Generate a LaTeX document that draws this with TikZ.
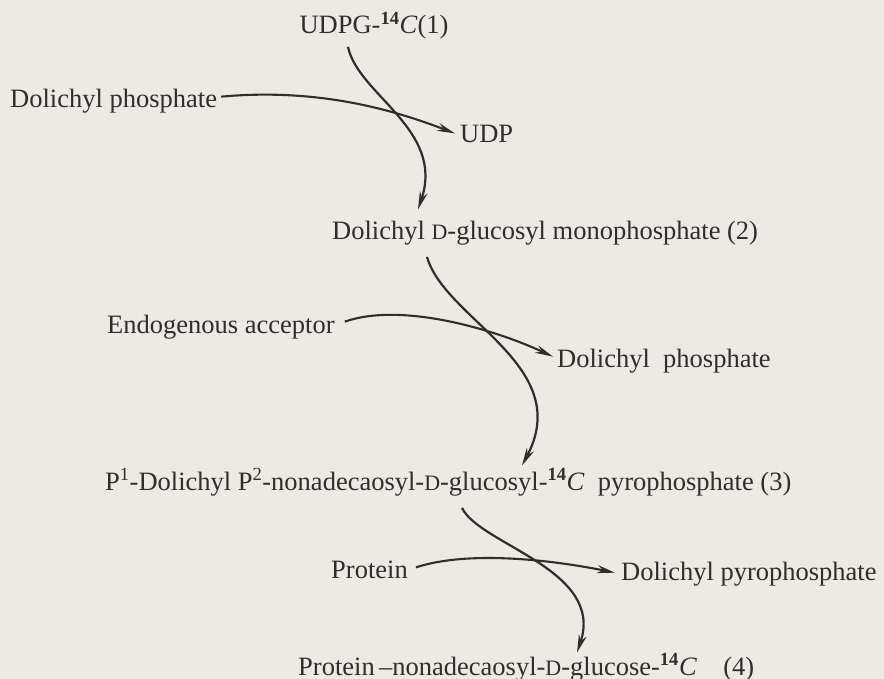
\documentclass[tikz,border=0pt]{standalone}
\usepackage{fontspec}
\setmainfont{Liberation Serif}
\usepackage{tikz}
\usetikzlibrary{arrows.meta}
\definecolor{paper}{HTML}{EDEAE1}
\definecolor{ink}{HTML}{2E2E2E}
\newcommand{\smallD}{{\fontsize{22}{22}\selectfont D}}
\newcommand{\labC}{\textsuperscript{\textbf{14}}\textit{C}}

\begin{document}
\begin{tikzpicture}[
  x=1pt, y=-1pt,
  >={Stealth[length=18pt,width=8pt]},
  font=\fontsize{26.5}{30}\selectfont,
  compound/.style={
    text=ink,
    inner sep=0pt,
    anchor=base west
  },
  mainarrow/.style={->, line width=2.2pt, draw=ink},
  sidearrow/.style={->, line width=2.1pt, draw=ink}
]

  \useasboundingbox (0,0) rectangle (884,679);
  \fill[paper] (0,0) rectangle (884,679);

  % --- STEP 1: UDPG + DOLICHYL PHOSPHATE ---
  \node[compound, anchor=base] (udpg) at (374,34) {UDPG-\labC(1)};
  \node[compound] (dolp) at (10,108) {Dolichyl phosphate};
  \node[compound] (udp) at (460,143) {UDP};
  \node[compound] (dglc) at (332,240) {Dolichyl \smallD-glucosyl monophosphate (2)};

  \draw[mainarrow] ([xshift=-26pt,yshift=-7pt]udpg.south)
    .. controls +(10,48) and +(27,-80) .. ([xshift=86pt,yshift=12pt]dglc.north west);
  \draw[sidearrow] ([xshift=4pt,yshift=5pt]dolp.east)
    .. controls +(98,-9) and +(-60,-23) .. ([xshift=-5pt,yshift=1pt]udp.west);

  % --- STEP 2: TRANSFER TO ENDOGENOUS ACCEPTOR ---
  \node[compound] (endo) at (107,333) {Endogenous acceptor};
  \node[compound] (dolp2) at (557,367) {Dolichyl\ \ phosphate};
  \node[compound] (pyro) at (105,490)
    {P\textsuperscript{1}-Dolichyl P\textsuperscript{2}-nonadecaosyl-\smallD-glucosyl-\labC\ \ pyrophosphate (3)};

  \draw[mainarrow] ([xshift=95pt,yshift=-11pt]dglc.south west)
    .. controls +(18,63) and +(53,-100) .. ([xshift=417pt,yshift=3pt]pyro.north west);
  \draw[sidearrow] ([xshift=10pt,yshift=5pt]endo.east)
    .. controls +(57,-20) and +(-58,-27) .. ([xshift=-4pt,yshift=4pt]dolp2.west);

  % --- STEP 3: TRANSFER TO PROTEIN ---
  \node[compound] (prot) at (331,578) {Protein};
  \node[compound] (dolpp) at (621,580) {Dolichyl pyrophosphate};
  \node[compound] (glcp) at (298,675) {Protein\,–nonadecaosyl-\smallD-glucose-\labC\ \ \ \ (4)};

  \draw[mainarrow] ([xshift=357pt,yshift=-12pt]pyro.south west)
    .. controls +(18,37) and +(28,-83) .. ([xshift=279pt,yshift=1pt]glcp.north west);
  \draw[sidearrow] ([xshift=8pt,yshift=2pt]prot.east)
    .. controls +(52,-17) and +(-65,-13) .. ([xshift=-6pt,yshift=1pt]dolpp.west);

\end{tikzpicture}
\end{document}
